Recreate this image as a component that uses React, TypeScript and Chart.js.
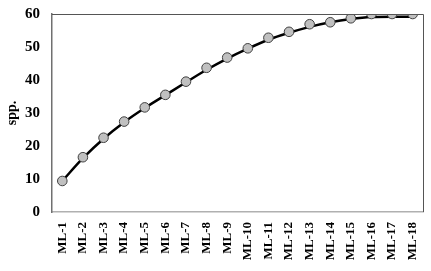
import React, { useEffect, useRef } from "react";
import { Chart, registerables } from "chart.js";

Chart.register(...registerables);

const categories = ["ML-1","ML-2","ML-3","ML-4","ML-5","ML-6","ML-7","ML-8","ML-9","ML-10","ML-11","ML-12","ML-13","ML-14","ML-15","ML-16","ML-17","ML-18"];
const observed = [9.4, 16.6, 22.5, 27.4, 31.7, 35.5, 39.5, 43.7, 46.8, 49.6, 52.8, 54.6, 56.9, 57.5, 58.7, 60, 60, 60];
const fitted = [9.4, 16.3, 22.2, 27.2, 31.5, 35.4, 39.3, 43.1, 46.5, 49.5, 52.2, 54.3, 56.1, 57.5, 58.5, 59.1, 59.2, 59.2];
const yTicks = [0, 10, 20, 30, 40, 50, 60];

const borderPlugin = {
  id: "frameBorder",
  afterDraw(chart: any) {
    const { ctx, chartArea } = chart;
    ctx.save();
    ctx.strokeStyle = "#555555";
    ctx.lineWidth = 1;
    ctx.beginPath();
    ctx.moveTo(chartArea.left, chartArea.top + 0.5);
    ctx.lineTo(chartArea.right + 0.5, chartArea.top + 0.5);
    ctx.lineTo(chartArea.right + 0.5, chartArea.bottom);
    ctx.stroke();
    ctx.restore();
  },
};

export default function App() {
  const ref = useRef<HTMLCanvasElement>(null);
  useEffect(() => {
    const chart = new Chart(ref.current!, {
      type: "line",
      data: {
        labels: categories,
        datasets: [
          {
            data: observed,
            showLine: false,
            pointRadius: 4.8,
            pointBackgroundColor: "#c0c0c0",
            pointBorderColor: "#404040",
            pointBorderWidth: 1,
            order: 0,
          },
          {
            data: fitted,
            borderColor: "#000000",
            borderWidth: 2.5,
            tension: 0.4,
            cubicInterpolationMode: "monotone",
            pointRadius: 0,
            order: 1,
          },
        ],
      },
      options: {
        animation: false,
        responsive: false,
        layout: { padding: { top: 14, right: 8, left: 4, bottom: 0 } },
        plugins: { legend: { display: false }, tooltip: { enabled: false } },
        scales: {
          x: {
            offset: true,
            grid: { display: false, drawTicks: false },
            border: { color: "#b0b0b0", width: 1.5 },
            afterFit: (s: any) => {
              s.height = 59;
              s.paddingLeft = 0;
              s.paddingRight = 0;
            },
            ticks: {
              color: "#000",
              maxRotation: 90,
              minRotation: 90,
              autoSkip: false,
              padding: 10,
              font: { family: "Liberation Serif", weight: "bold", size: 13 },
            },
          },
          y: {
            min: 0,
            max: 60,
            afterBuildTicks: (axis: any) => {
              axis.ticks = yTicks.map((v) => ({ value: v }));
            },
            afterFit: (s: any) => {
              s.width = 48;
              s.paddingTop = 0;
              s.paddingBottom = 0;
            },
            grid: { display: false, drawTicks: false },
            border: { color: "#707070", width: 1.5 },
            title: {
              display: true,
              text: "spp.",
              color: "#000",
              padding: { top: 0, bottom: 2 },
              font: { family: "Liberation Serif", weight: "bold", size: 14 },
            },
            ticks: {
              color: "#000",
              padding: 12,
              font: { family: "Liberation Serif", weight: "bold", size: 15 },
            },
          },
        },
      },
      plugins: [borderPlugin],
    });
    return () => chart.destroy();
  }, []);
  return (
    <div style={{ position: "fixed", left: 0, top: 0, width: 431, height: 271, background: "#fff" }}>
      <canvas ref={ref} width={431} height={271} />
    </div>
  );
}
